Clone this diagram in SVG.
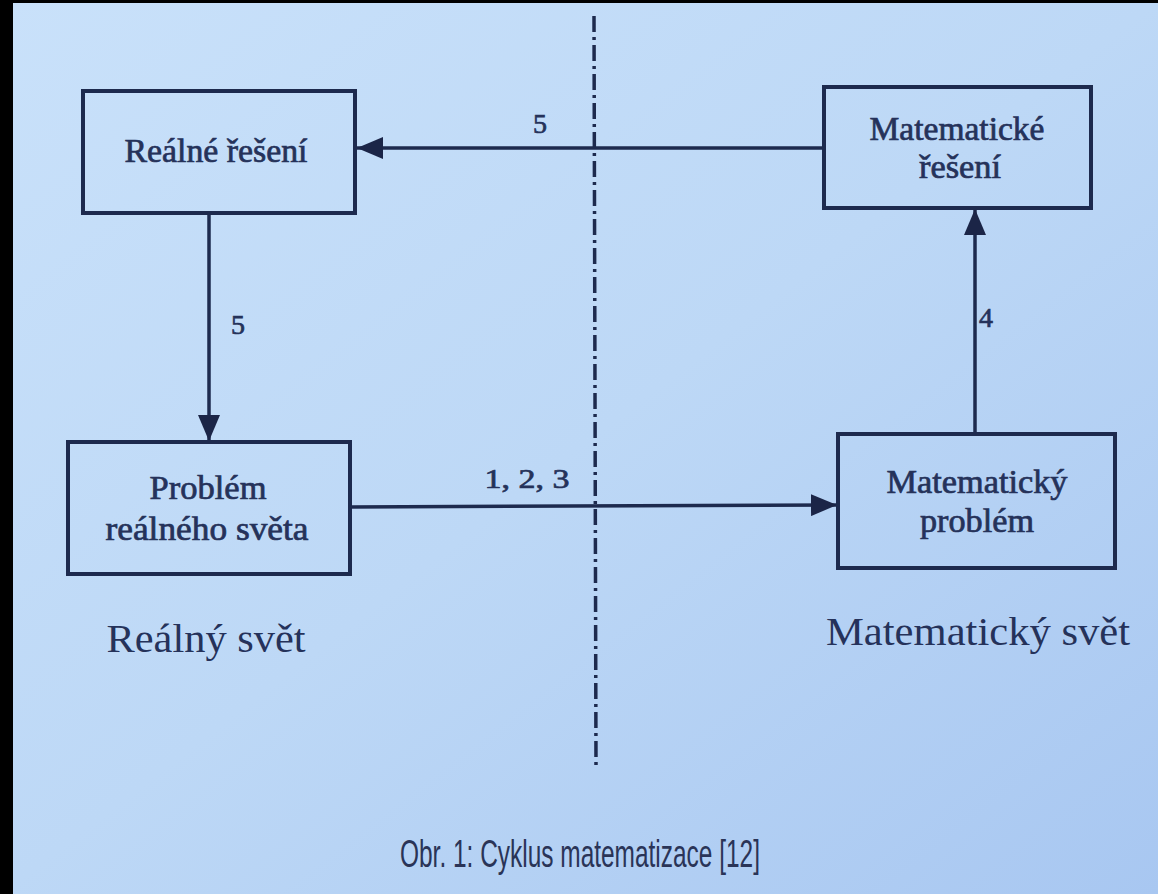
<svg xmlns="http://www.w3.org/2000/svg" width="1158" height="894" viewBox="0 0 1158 894">
<defs>
<linearGradient id="bg" x1="0" y1="0" x2="1" y2="1">
<stop offset="0" stop-color="#c9e1fa"/>
<stop offset="0.5" stop-color="#bdd8f6"/>
<stop offset="1" stop-color="#a8c7f1"/>
</linearGradient>
<marker id="ah" viewBox="0 0 26 22" refX="26" refY="11" markerWidth="26" markerHeight="22" markerUnits="userSpaceOnUse" orient="auto">
<path d="M0,0 L26,11 L0,22 Z" fill="#1b2547"/>
</marker>
</defs>
<style>
.box{fill:none;stroke:#1d2a4e;stroke-width:4}
.conn{fill:none;stroke:#1d2a4e;stroke-width:3.5}
.t{font-family:"Liberation Serif","Times New Roman",serif;fill:#25325a;text-anchor:middle;stroke:#25325a;stroke-width:0.7}
.lbl{font-family:"Liberation Serif","Times New Roman",serif;fill:#25325a;text-anchor:middle;font-size:41px}
.cap{font-family:"Liberation Sans",Arial,sans-serif;fill:#2a3457;text-anchor:middle;font-size:39px}
</style>
<rect x="0" y="0" width="1158" height="894" fill="url(#bg)"/>
<rect x="0" y="0" width="13" height="894" fill="#000"/>
<rect x="0" y="0" width="1158" height="3" fill="#000"/>

<g id="divider">
<line x1="594" y1="16" x2="596" y2="765" stroke="#1d2a4e" stroke-width="3.5" stroke-dasharray="16,5,3,5"/>
</g>

<g id="connectors">
<line class="conn" x1="824" y1="148" x2="357" y2="148" marker-end="url(#ah)"/>
<line class="conn" x1="209" y1="213" x2="209" y2="441" marker-end="url(#ah)"/>
<line class="conn" x1="350" y1="507" x2="837" y2="505" marker-end="url(#ah)"/>
<line class="conn" x1="975" y1="434" x2="975" y2="209" marker-end="url(#ah)"/>
<text class="t" x="540" y="133" font-size="28">5</text>
<text class="t" x="238" y="334" font-size="28">5</text>
<text class="t" x="986" y="327" font-size="28">4</text>
<text class="t" x="527" y="488" font-size="28" textLength="85" lengthAdjust="spacingAndGlyphs">1, 2, 3</text>
</g>

<g id="node-realne-reseni">
<rect class="box" x="83" y="91" width="272" height="122"/>
<text class="t" x="216" y="162" font-size="33" textLength="183" lengthAdjust="spacingAndGlyphs">Reálné řešení</text>
</g>

<g id="node-matematicke-reseni">
<rect class="box" x="824" y="87" width="267" height="121"/>
<text class="t" x="957" y="140" font-size="33" textLength="175" lengthAdjust="spacingAndGlyphs">Matematické</text>
<text class="t" x="960" y="178" font-size="33" textLength="82" lengthAdjust="spacingAndGlyphs">řešení</text>
</g>

<g id="node-problem-realneho-sveta">
<rect class="box" x="68" y="442" width="282" height="132"/>
<text class="t" x="208" y="499" font-size="33" textLength="117" lengthAdjust="spacingAndGlyphs">Problém</text>
<text class="t" x="207" y="540" font-size="33" textLength="203" lengthAdjust="spacingAndGlyphs">reálného světa</text>
</g>

<g id="node-matematicky-problem">
<rect class="box" x="838" y="434" width="277" height="134"/>
<text class="t" x="977" y="493" font-size="33" textLength="181" lengthAdjust="spacingAndGlyphs">Matematický</text>
<text class="t" x="977" y="532" font-size="33" textLength="114" lengthAdjust="spacingAndGlyphs">problém</text>
</g>

<g id="labels">
<text class="lbl" x="206" y="652" textLength="199" lengthAdjust="spacingAndGlyphs">Reálný svět</text>
<text class="lbl" x="978" y="645" textLength="304" lengthAdjust="spacingAndGlyphs">Matematický svět</text>
<text class="cap" x="580" y="867" textLength="360" lengthAdjust="spacingAndGlyphs">Obr. 1: Cyklus matematizace [12]</text>
</g>
</svg>
